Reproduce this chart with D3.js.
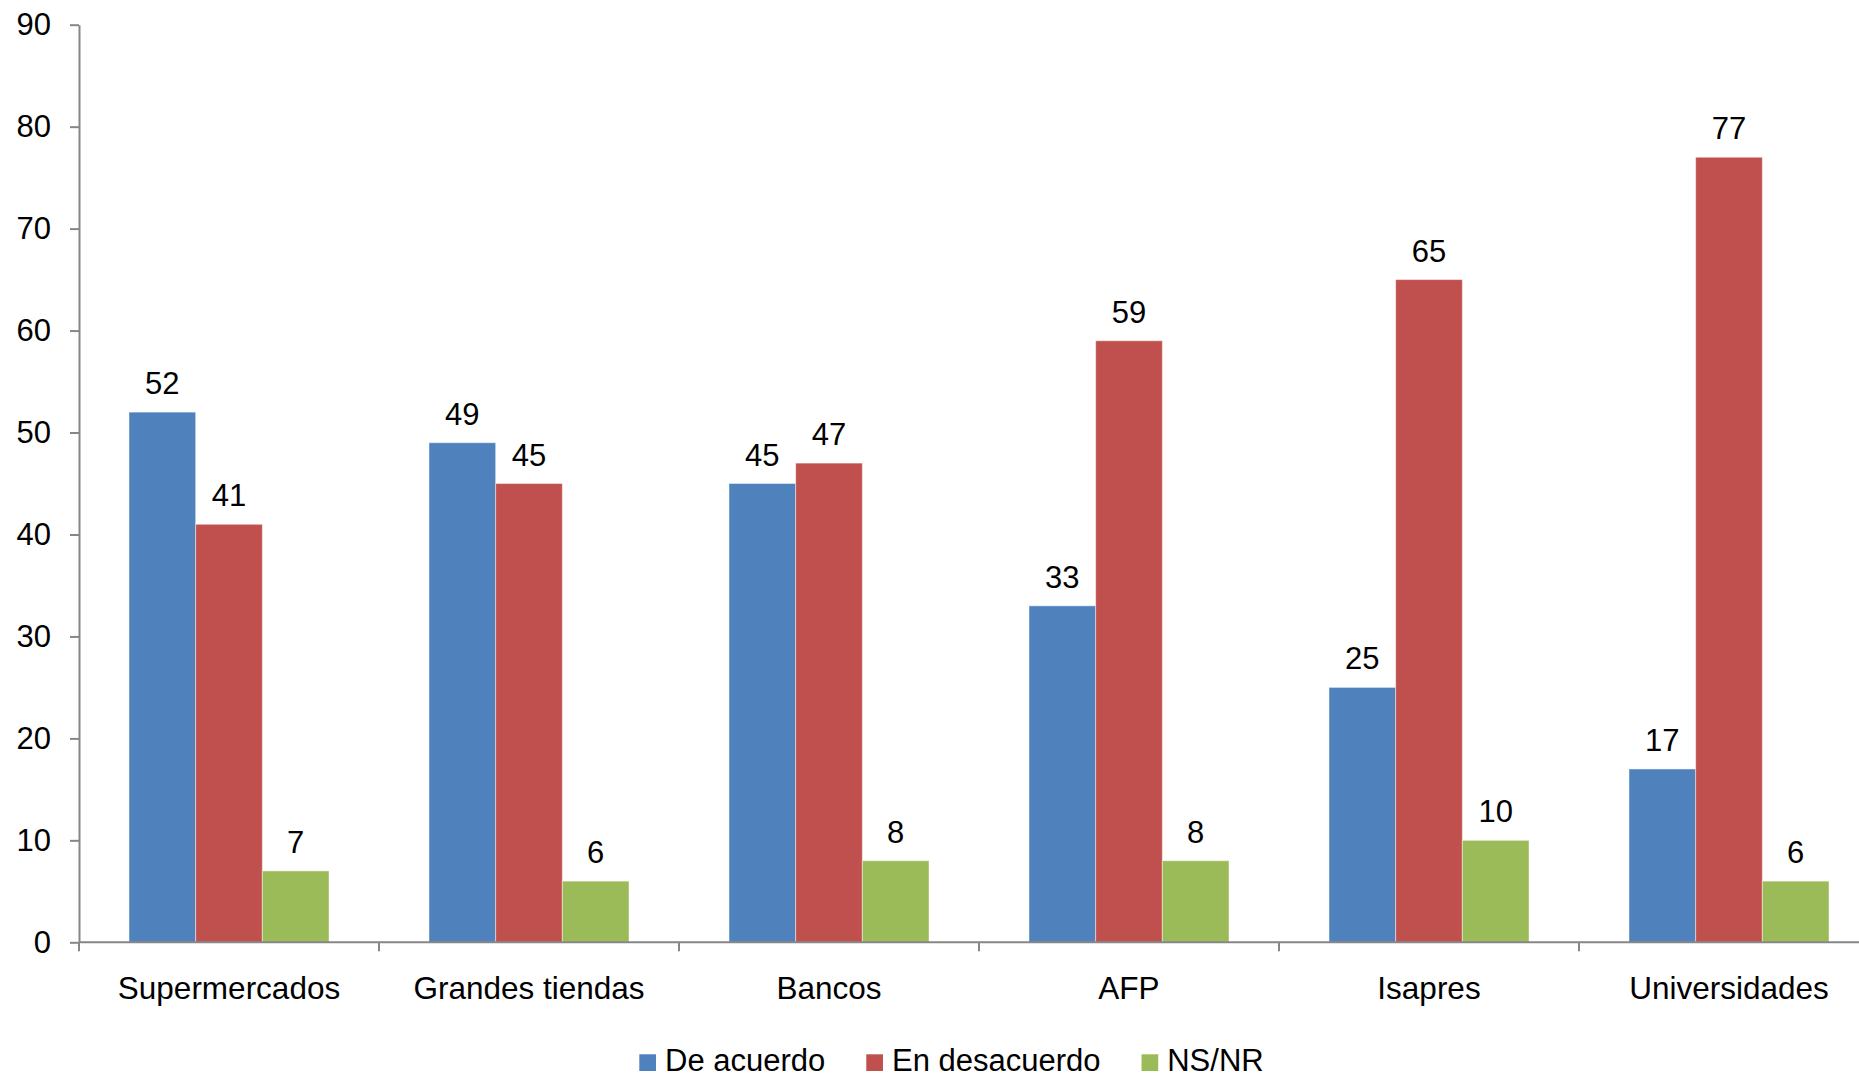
<!DOCTYPE html>
<html>
<head>
<meta charset="utf-8">
<script src="https://cdn.jsdelivr.net/npm/d3@7"></script>
<style>
  html, body { margin: 0; padding: 0; background: #fff; }
  svg { display: block; font-family: "Liberation Sans", Arial, sans-serif; }
</style>
</head>
<body>
<svg id="chart" width="1859" height="1075"></svg>
<script>
const categories = ["Supermercados", "Grandes tiendas", "Bancos", "AFP", "Isapres", "Universidades"];
const seriesNames = ["De acuerdo", "En desacuerdo", "NS/NR"];
const deAcuerdo = [52, 49, 45, 33, 25, 17];
const enDesacuerdo = [41, 45, 47, 59, 65, 77];
const nsnr = [7, 6, 8, 8, 10, 6];
const seriesColors = ["#4F81BD", "#C0504D", "#9BBB59"];
const yTicks = [0, 10, 20, 30, 40, 50, 60, 70, 80, 90];

const seriesValues = [deAcuerdo, enDesacuerdo, nsnr];
const svg = d3.select("#chart");
const axisColor = "#868686";
const fs = 31;

const x0 = 79, yZero = 942.3, yTop = 24.7;
const x = d3.scaleBand().domain(categories).range([x0, x0 + 300 * categories.length]).paddingInner(0).paddingOuter(0);
const xs = d3.scaleBand().domain(seriesNames).range([0, x.bandwidth()]).paddingInner(0).paddingOuter(0.75);
const y = d3.scaleLinear().domain([0, 90]).range([yZero, yTop]);

// Bars
const rows = categories.map((c, i) => ({ cat: c, vals: seriesNames.map((s, j) => ({ s, j, v: seriesValues[j][i] })) }));
const groups = svg.append("g").selectAll("g").data(rows).join("g")
  .attr("transform", d => `translate(${x(d.cat)},0)`);
groups.selectAll("rect").data(d => d.vals).join("rect")
  .attr("x", d => xs(d.s))
  .attr("y", d => y(d.v))
  .attr("width", xs.bandwidth())
  .attr("height", d => y(0) - y(d.v))
  .attr("fill", d => seriesColors[d.j])
  .attr("stroke", "rgba(255,255,255,0.45)")
  .attr("stroke-width", 1);
groups.selectAll("text").data(d => d.vals).join("text")
  .attr("x", d => xs(d.s) + xs.bandwidth() / 2)
  .attr("y", d => y(d.v) - 18)
  .attr("text-anchor", "middle")
  .attr("font-size", fs)
  .attr("fill", "#000")
  .text(d => d.v);

// Y axis
const yAxis = svg.append("g").attr("transform", `translate(${x0},0)`)
  .call(d3.axisLeft(y).tickValues(yTicks).tickSize(9).tickPadding(19).tickSizeOuter(0));
yAxis.select(".domain").attr("stroke", axisColor).attr("stroke-width", 2);
yAxis.selectAll(".tick line").attr("stroke", axisColor).attr("stroke-width", 2);
yAxis.selectAll(".tick text").attr("font-size", fs).attr("fill", "#000").attr("font-family", "Liberation Sans, Arial, sans-serif");

// X axis
const xAxis = svg.append("g").attr("transform", `translate(0,${yZero})`);
xAxis.append("line").attr("x1", x0).attr("x2", x.range()[1]).attr("stroke", axisColor).attr("stroke-width", 2);
const boundaries = categories.map(c => x(c)).concat([x.range()[1]]);
xAxis.selectAll("line.tk").data(boundaries).join("line").attr("class", "tk")
  .attr("x1", d => d).attr("x2", d => d).attr("y1", 0).attr("y2", 9)
  .attr("stroke", axisColor).attr("stroke-width", 2);
xAxis.selectAll("text").data(categories).join("text")
  .attr("x", d => x(d) + x.bandwidth() / 2)
  .attr("y", 57)
  .attr("text-anchor", "middle")
  .attr("font-size", 31.5)
  .attr("fill", "#000")
  .text(d => d);

// Legend
const legend = svg.append("g");
let lx = 639.3;
const sq = 16.7, legBase = 1071;
seriesNames.forEach((name, j) => {
  legend.append("rect").attr("x", lx).attr("y", legBase - sq).attr("width", sq).attr("height", sq).attr("fill", seriesColors[j]);
  const t = legend.append("text").attr("x", lx + sq + 9).attr("y", legBase)
    .attr("font-size", fs).attr("fill", "#000").text(name);
  lx += sq + 9 + t.node().getComputedTextLength() + 41;
});
</script>
</body>
</html>
